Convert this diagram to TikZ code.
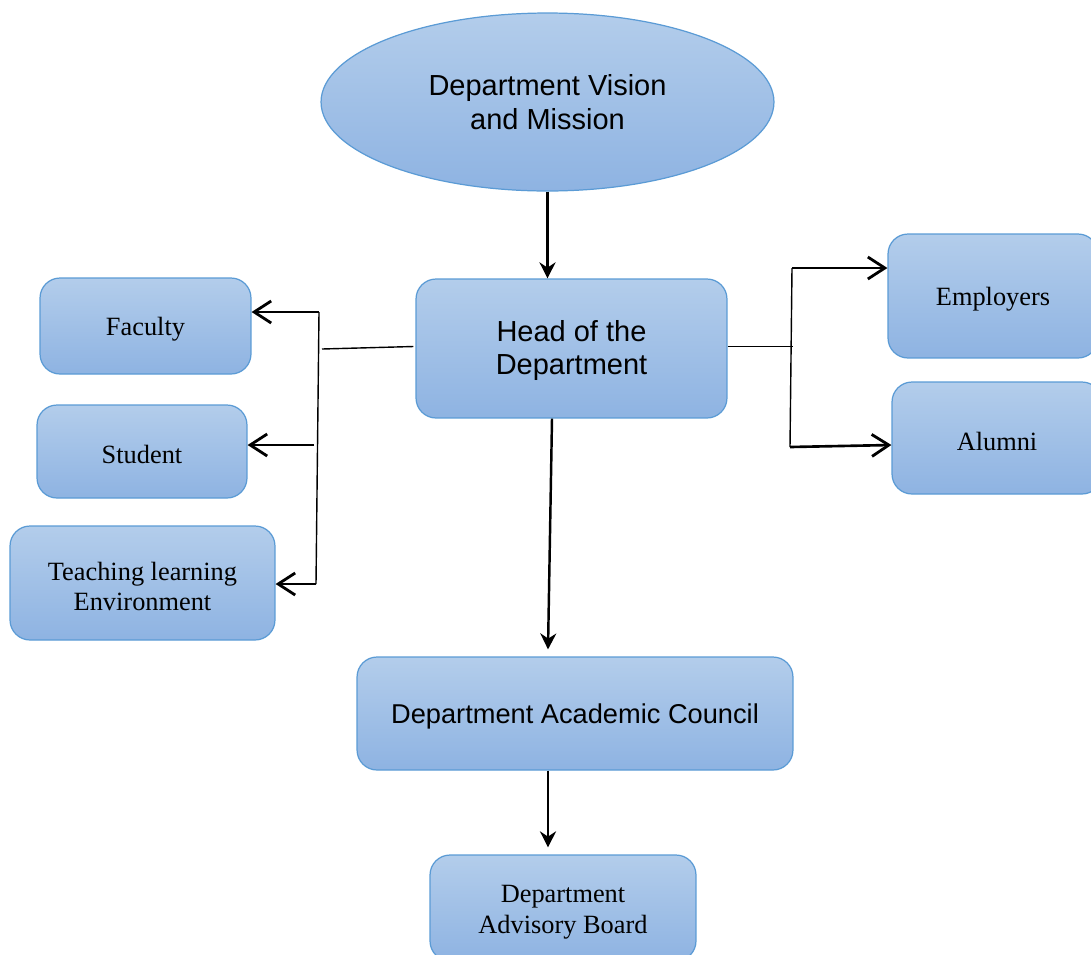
\documentclass[tikz,border=0pt]{standalone}
\usepackage{fontspec}
\setmainfont{Liberation Serif}
\setsansfont{Liberation Sans}
\usetikzlibrary{calc,shapes.geometric,arrows.meta}

\definecolor{boxtop}{HTML}{B3CDEB}
\definecolor{boxbot}{HTML}{8EB3E2}
\definecolor{boxline}{HTML}{5B9BD5}

\tikzset{
	unitfill/.style={draw=boxline, line width=0.7pt, top color=boxtop, bottom color=boxbot, align=center, inner sep=2pt},
	unitbox/.style={unitfill, rounded corners=0.4cm},
	sanslabel/.style={font=\sffamily\fontsize{16.5}{19}\selectfont},
	seriflabel/.style={font=\fontsize{15}{17.5}\selectfont},
	flow/.style={-{Stealth[length=0.32cm,width=0.32cm]}, line width=1.4pt},
	branch/.style={-{Straight Barb[length=0.34cm,width=0.44cm,line width=1.6pt]}, line width=1.5pt},
	joinline/.style={line width=0.8pt}
}

\begin{document}
\begin{tikzpicture}[x=0.02cm,y=-0.02cm]

	\useasboundingbox (0,0) rectangle (1091,954);

	% ---- centre column

	\node[unitfill, ellipse, sanslabel, minimum width=9.06cm, minimum height=3.56cm] (vision) at (547.5,102) {Department Vision\\and Mission};
	\node[unitbox, sanslabel, minimum width=6.22cm, minimum height=2.78cm] (head) at (571.5,348.5) {\rule{0pt}{0.5cm}Head of the\\Department};
	\node[unitbox, font=\sffamily\fontsize{15.5}{18}\selectfont, minimum width=8.72cm, minimum height=2.26cm] (council) at (575,713.5) {\rule{0pt}{0.5cm}Department Academic Council};
	\node[unitbox, seriflabel, minimum width=5.32cm, minimum height=2.12cm] (advisory) at (563,908) {\rule{0pt}{0.5cm}Department\\Advisory Board};

	% ---- left side

	\node[unitbox, seriflabel, minimum width=4.22cm, minimum height=1.92cm] (faculty) at (145.5,326) {\rule{0pt}{0.5cm}Faculty};
	\node[unitbox, seriflabel, minimum width=4.2cm, minimum height=1.86cm] (student) at (142,451.5) {\rule{0pt}{0.5cm}Student};
	\node[unitbox, seriflabel, minimum width=5.3cm, minimum height=2.28cm] (teaching) at (142.5,583) {\rule{0pt}{0.5cm}Teaching learning\\Environment};

	% ---- right side

	\node[unitbox, seriflabel, minimum width=4.2cm, minimum height=2.48cm] (employers) at (993,296) {\rule{0pt}{0.5cm}Employers};
	\node[unitbox, seriflabel, minimum width=4.2cm, minimum height=2.24cm] (alumni) at (997,438) {\rule{0pt}{0.5cm}Alumni};

	% ---- main flow

	\draw[flow] (vision.south) -- (vision.south |- head.north);
	\draw[flow] ($(head.south)+(-19.5,0)$) -- ($(council.north)+(-27,-7)$);
	\draw[flow] ($(council.south)+(-27,0)$) -- ($(advisory.north)+(-15,-7)$);

	% ---- left bracket

	\coordinate (ltop) at (319,312);
	\coordinate (lmid) at (314,445);
	\coordinate (lbot) at (316,584);

	\draw[joinline] ($(head.west)+(-2,-2)$) -- (322,349);
	\draw[joinline] (ltop) -- (lbot);
	\draw[branch] (ltop) -- (faculty.east |- ltop);
	\draw[branch] (lmid) -- (student.east |- lmid);
	\draw[branch] (lbot) -- (teaching.east |- lbot);

	% ---- right bracket

	\coordinate (rtop) at (792,268);
	\coordinate (rbot) at (790,447);

	\draw[joinline] ($(head.east)+(0,-2)$) -- (793,346.5);
	\draw[joinline] (rtop) -- (rbot);
	\draw[branch] (rtop) -- (employers.west |- rtop);
	\draw[branch] (rbot) -- ($(alumni.west)+(0,7)$);

\end{tikzpicture}
\end{document}
